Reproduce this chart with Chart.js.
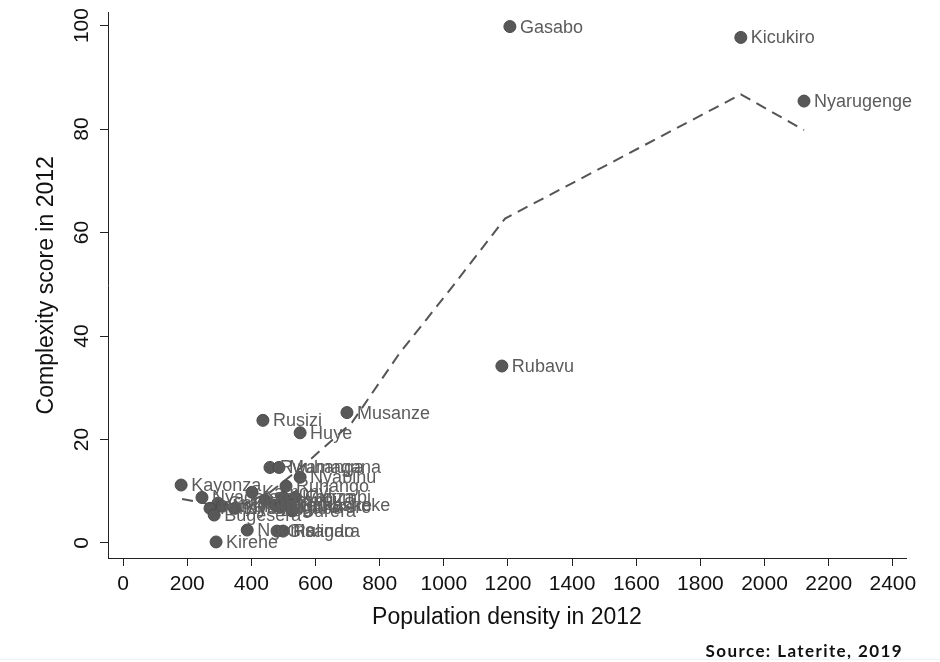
<!DOCTYPE html>
<html>
<head>
<meta charset="utf-8">
<script src="https://cdn.jsdelivr.net/npm/chart.js@4"></script>
<style>
    html, body { margin: 0; padding: 0; background: #fff; }
    #wrap { position: relative; width: 940px; height: 662px; overflow: hidden; }
    #source {
        position: absolute; right: 37px; top: 640px;
        font: bold 17px Lato, "Noto Sans", sans-serif; letter-spacing: 1.4px; color: #111;
    }
    #rule { position: absolute; left: 0; right: 0; top: 659px; height: 1px; background: #eef3f3; }
</style>
</head>
<body>
<div id="wrap">
    <canvas id="chart" width="940" height="662"></canvas>
    <div id="source">Source: Laterite, 2019</div>
    <div id="rule"></div>
</div>
<script>
// Districts: population density vs complexity score (2012)
const districts = [
    'Gasabo', 'Kicukiro', 'Nyarugenge', 'Rubavu', 'Musanze', 'Rusizi', 'Huye',
    'Rwamagana', 'Muhanga', 'Nyabihu', 'Kayonza', 'Ruhango', 'Kamonyi', 'Nyagatare',
    'Gatsibo', 'Rutsiro', 'Nyaruguru', 'Bugesera', 'Ngoma', 'Kirehe', 'Gisagara',
    'Rulindo', 'Burera', 'Karongi', 'Nyamasheke', 'Ngororero', 'Gicumbi', 'Gakenke',
    'Nyanza', 'Nyamagabe'
];
const density = [
    1206, 1926, 2123, 1181, 698, 436, 552,
    458, 486, 552, 181, 508, 402, 246,
    296, 271, 309, 284, 387, 290, 480,
    499, 527, 443, 474, 490, 536, 520,
    500, 349
];
const complexity = [
    99.8, 97.7, 85.4, 34.2, 25.2, 23.7, 21.3,
    14.6, 14.6, 12.7, 11.2, 11.0, 9.8, 8.8,
    7.7, 6.7, 7.1, 5.4, 2.5, 0.2, 2.3,
    2.3, 6.2, 8.3, 7.3, 6.9, 8.8, 7.3,
    8.8, 6.7
];

// Smoothed fit line
const fitX = [184, 287, 380, 458, 552, 714, 860, 1030, 1191, 1926, 2123];
const fitY = [8.5, 7.3, 7.7, 9.8, 14.4, 23.3, 36.5, 49.8, 62.7, 86.7, 79.8];

const xTicks = [0, 200, 400, 600, 800, 1000, 1200, 1400, 1600, 1800, 2000, 2200, 2400];
const yTicks = [0, 20, 40, 60, 80, 100];

const markColor = '#585858';
const tickFont = { family: '"Liberation Sans", Arial, sans-serif', size: 21 };
const titleFont = { family: '"Liberation Sans", Arial, sans-serif', size: 23 };

// Write district names next to the markers
const pointLabels = {
    id: 'pointLabels',
    afterDatasetsDraw(chart) {
        const meta = chart.getDatasetMeta(1);
        const ctx = chart.ctx;
        ctx.save();
        ctx.font = '18px "Liberation Sans", Arial, sans-serif';
        ctx.fillStyle = '#5c5c5c';
        ctx.textAlign = 'left';
        ctx.textBaseline = 'middle';
        meta.data.forEach((pt, i) => {
            ctx.fillText(districts[i], pt.x + 10, pt.y + 1);
        });
        ctx.restore();
    }
};

new Chart(document.getElementById('chart'), {
    type: 'scatter',
    data: {
        datasets: [
            {
                type: 'line',
                data: fitX.map((x, i) => ({ x: x, y: fitY[i] })),
                borderColor: '#555',
                borderWidth: 2,
                borderDash: [11, 7],
                pointRadius: 0,
                tension: 0,
                fill: false,
                order: 0
            },
            {
                data: density.map((x, i) => ({ x: x, y: complexity[i] })),
                backgroundColor: markColor,
                borderColor: '#4a4a4a',
                borderWidth: 1,
                pointRadius: 6,
                order: 1
            }
        ]
    },
    options: {
        responsive: false,
        animation: false,
        layout: { padding: { left: 0, top: 10, right: 34, bottom: 0 } },
        plugins: { legend: { display: false }, tooltip: { enabled: false } },
        scales: {
            x: {
                type: 'linear',
                min: -47,
                max: 2441,
                afterBuildTicks: s => { s.ticks = xTicks.map(v => ({ value: v })); },
                afterFit: s => { s.height = 104; },
                grid: { drawOnChartArea: false, drawTicks: true, tickLength: 8, color: '#222' },
                border: { color: '#222', width: 1 },
                ticks: {
                    color: '#111', font: tickFont, padding: 6, maxRotation: 0, autoSkip: false,
                    callback: v => String(v)
                },
                title: {
                    display: true, text: 'Population density in 2012', color: '#111',
                    font: titleFont, padding: { top: 0, bottom: 31 }
                }
            },
            y: {
                type: 'linear',
                min: -2.9,
                max: 102.5,
                afterBuildTicks: s => { s.ticks = yTicks.map(v => ({ value: v })); },
                afterFit: s => { s.width = 108; },
                grid: { drawOnChartArea: false, drawTicks: true, tickLength: 8, color: '#222' },
                border: { color: '#222', width: 1 },
                ticks: {
                    color: '#111', font: tickFont, padding: 0,
                    minRotation: 90, maxRotation: 90, crossAlign: 'center',
                    callback: v => String(v)
                },
                title: {
                    display: true, text: 'Complexity score in 2012', color: '#111',
                    font: titleFont, padding: { top: 33, bottom: 0 }
                }
            }
        }
    },
    plugins: [pointLabels]
});
</script>
</body>
</html>
